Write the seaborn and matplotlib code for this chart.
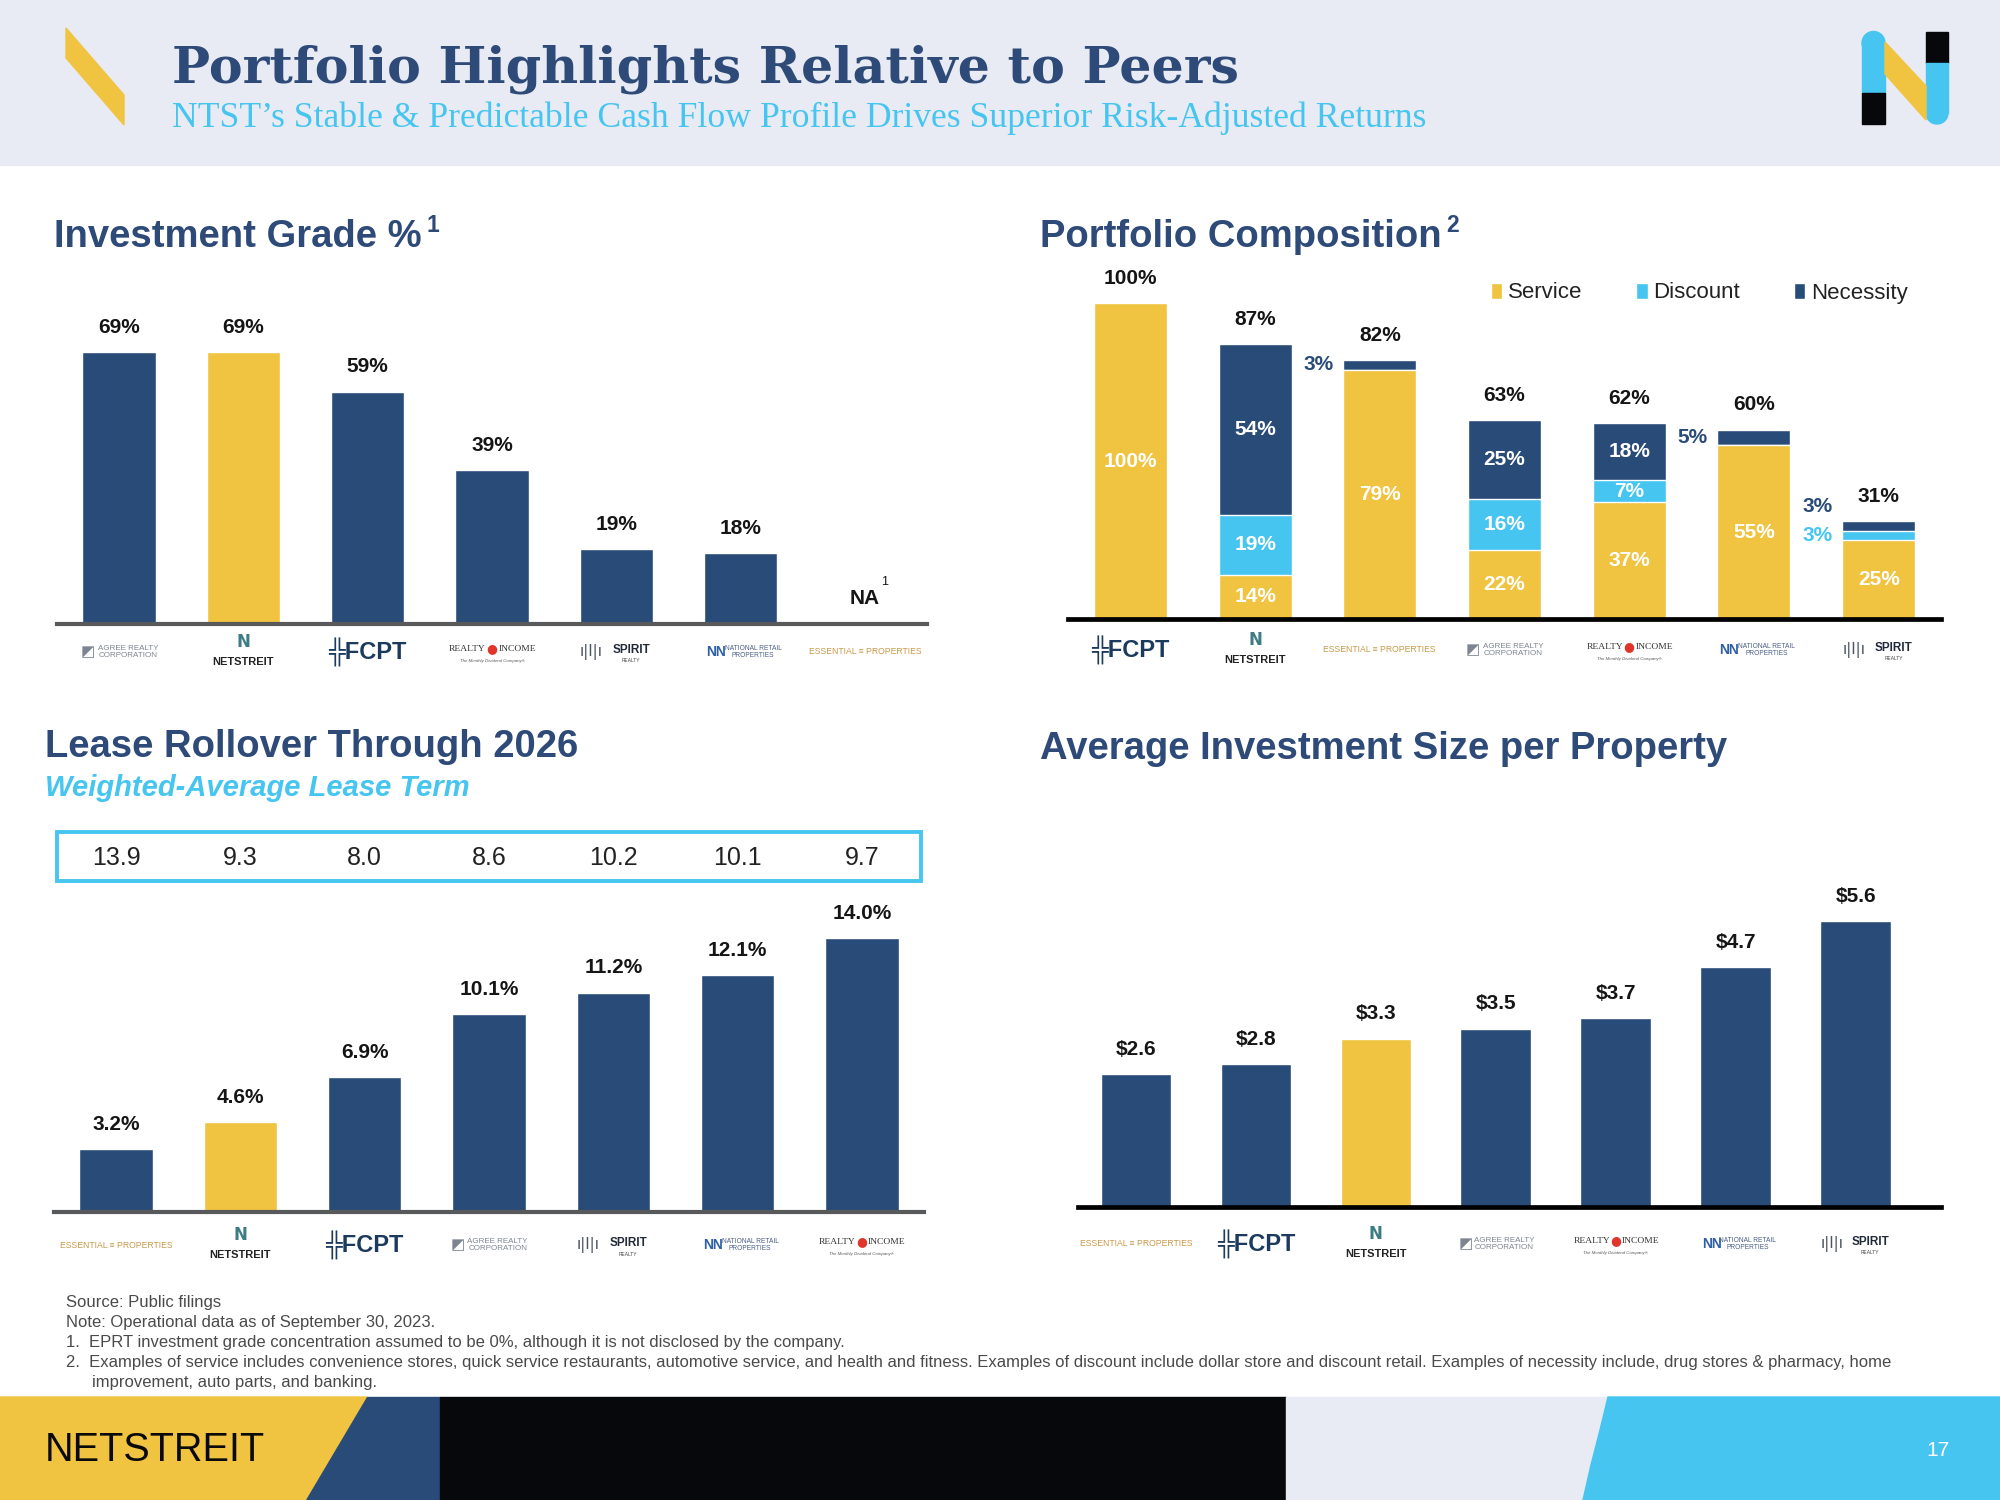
import numpy as np
import pandas as pd
import matplotlib
matplotlib.use("Agg")
import matplotlib.pyplot as plt
import seaborn as sns
from matplotlib.patches import Polygon, Rectangle, Circle, Patch
from matplotlib.transforms import blended_transform_factory as blend

# ---------------- data ----------------
ig_companies = ["ADC", "NTST", "FCPT", "O", "SRC", "NNN", "EPRT"]
ig_values = [69, 69, 59, 39, 19, 18, np.nan]

roll_companies = ["EPRT", "NTST", "FCPT", "ADC", "SRC", "NNN", "O"]
roll_values = [3.2, 4.6, 6.9, 10.1, 11.2, 12.1, 14.0]
walt_values = [13.9, 9.3, 8.0, 8.6, 10.2, 10.1, 9.7]

comp_companies = ["FCPT", "NTST", "EPRT", "ADC", "O", "NNN", "SRC"]
service = [100, 14, 79, 22, 37, 55, 25]
discount = [0, 19, 0, 16, 7, 0, 3]
necessity = [0, 54, 3, 25, 18, 5, 3]
comp_totals = [100, 87, 82, 63, 62, 60, 31]

size_companies = ["EPRT", "FCPT", "NTST", "ADC", "O", "NNN", "SRC"]
size_values = [2.6, 2.8, 3.3, 3.5, 3.7, 4.7, 5.6]

footnotes = [
    "Source: Public filings",
    "Note: Operational data as of September 30, 2023.",
    "1.  EPRT investment grade concentration assumed to be 0%, although it is not disclosed by the company.",
    "2.  Examples of service includes convenience stores, quick service restaurants, automotive service, and health and fitness. "
    "Examples of discount include dollar store and discount retail. Examples of necessity include, drug stores & pharmacy, home",
]
footnote_cont = "improvement, auto parts, and banking."

# ---------------- style ----------------
NAVY = "#294B78"
YELLOW = "#F0C441"
CYAN = "#45C5EF"
TITLE = "#2D4A78"
HEADBG = "#E8EBF3"
LABEL = "#151515"

sns.set_style("white")
plt.rcParams["font.family"] = ["Liberation Sans", "DejaVu Sans"]

fig = plt.figure(figsize=(20, 15), dpi=100)
bg = fig.add_axes([0, 0, 1, 1], zorder=0)
bg.set_xlim(0, 2000)
bg.set_ylim(1500, 0)
bg.axis("off")


def px_axes(l, t, r, b):
    ax = fig.add_axes([l / 2000, 1 - b / 1500, (r - l) / 2000, (b - t) / 1500], zorder=2)
    ax.set_facecolor("none")
    return ax


def pal(companies):
    return {c: (YELLOW if c == "NTST" else NAVY) for c in companies}


def tidy(ax, color, lw=3.0):
    ax.set_xlabel("")
    ax.set_ylabel("")
    ax.set_xticks([])
    ax.set_yticks([])
    sns.despine(ax=ax, left=True)
    ax.spines["bottom"].set_color(color)
    ax.spines["bottom"].set_linewidth(lw)


def bar_labels(ax, values, fmt):
    for i, v in enumerate(values):
        if np.isnan(v):
            continue
        ax.annotate(fmt(v), xy=(i, v), xytext=(0, 18), textcoords="offset points",
                    ha="center", va="center", fontsize=15, fontweight="bold", color=LABEL)


def logo(ax, i, key, yc):
    T = blend(ax.transData, bg.transData)

    def t(x, y, s, **k):
        base = dict(transform=T, ha="center", va="center", clip_on=False)
        base.update(k)
        ax.text(x, y, s, **base)

    if key == "NTST":
        t(i, yc - 10, "N", fontsize=12, fontweight="bold", color="#3C7C84", family="DejaVu Sans")
        t(i, yc + 10, "NETSTREIT", fontsize=8, fontweight="bold", color="#222222")
    elif key == "FCPT":
        t(i, yc, "╬FCPT", fontsize=17, fontweight="bold", color="#1C3A5E")
    elif key == "ADC":
        t(i - 0.25, yc, "◩", fontsize=11, color="#7D8591", family="DejaVu Sans")
        t(i + 0.07, yc, "AGREE REALTY\nCORPORATION", fontsize=5.8, color="#7D8591", linespacing=1.0)
    elif key == "O":
        t(i - 0.05, yc - 3, "REALTY", ha="right", fontsize=6.8, family="Liberation Serif", color="#333333")
        t(i, yc - 3, "●", fontsize=9, color="#E0352B", family="DejaVu Sans")
        t(i + 0.05, yc - 3, "INCOME", ha="left", fontsize=6.8, family="Liberation Serif", color="#333333")
        t(i, yc + 9, "The Monthly Dividend Company®", fontsize=3.2, style="italic", color="#555555")
    elif key == "SRC":
        t(i - 0.2, yc, "ı|l|ı", fontsize=11, color="#4A5363", family="DejaVu Sans")
        t(i + 0.12, yc - 2, "SPIRIT", fontsize=8.5, fontweight="bold", color="#222A3A")
        t(i + 0.12, yc + 9, "REALTY", fontsize=3.5, color="#444444")
    elif key == "NNN":
        t(i - 0.2, yc, "NN", fontsize=10, fontweight="bold", color="#2F5FA8")
        t(i + 0.1, yc, "NATIONAL RETAIL\nPROPERTIES", fontsize=4.8, color="#4A5E85", linespacing=1.0)
    elif key == "EPRT":
        t(i, yc, "ESSENTIAL ≡ PROPERTIES", fontsize=6.2, color="#C8994A")


def sup_text(x, y, s, sup, size, color, **kw):
    txt = bg.text(x, y, s, ha="left", va="center", fontsize=size, color=color, **kw)
    r = fig.canvas.get_renderer()
    bb = txt.get_window_extent(renderer=r)
    x1 = bg.transData.inverted().transform((bb.x1, bb.y1))[0]
    bg.text(x1 + 5, y - 11, sup, ha="left", va="center", fontsize=size * 0.6, color=color, **kw)


# ---------------- header ----------------
bg.add_patch(Rectangle((0, 0), 2000, 165, color=HEADBG, zorder=0))
bg.add_patch(Polygon([(66, 28), (124, 95), (124, 125), (66, 58)], closed=True, color=YELLOW, zorder=1))
# N logo
bg.add_patch(Rectangle((1862, 43), 23, 50, color=CYAN, zorder=1))
bg.add_patch(Circle((1873.5, 43), 11.5, color=CYAN, zorder=1))
bg.add_patch(Rectangle((1862, 93), 23, 31, color="#07080C", zorder=1))
bg.add_patch(Rectangle((1926, 32), 22, 31, color="#07080C", zorder=1))
bg.add_patch(Rectangle((1926, 63), 22, 50, color=CYAN, zorder=1))
bg.add_patch(Circle((1937, 113), 11, color=CYAN, zorder=1))
bg.add_patch(Polygon([(1885, 42), (1926, 86), (1926, 120), (1885, 74)], closed=True, color=YELLOW, zorder=1))

bg.text(172, 69, "Portfolio Highlights Relative to Peers", ha="left", va="center",
        fontsize=36.5, fontweight="bold", family="DejaVu Serif", color=TITLE)
bg.text(172, 118, "NTST’s Stable & Predictable Cash Flow Profile Drives Superior Risk-Adjusted Returns",
        ha="left", va="center", fontsize=25.7, family="Liberation Serif", color=CYAN)

# ---------------- panel titles ----------------
sup_text(54, 237, "Investment Grade %", "1", 27.5, TITLE, fontweight="bold")
sup_text(1040, 237, "Portfolio Composition", "2", 27.5, TITLE, fontweight="bold")
bg.text(45, 747, "Lease Rollover Through 2026", ha="left", va="center", fontsize=27.5,
        fontweight="bold", color=TITLE)
bg.text(45, 788, "Weighted-Average Lease Term", ha="left", va="center", fontsize=21,
        fontweight="bold", style="italic", color=CYAN)
bg.text(1040, 749, "Average Investment Size per Property", ha="left", va="center", fontsize=27.5,
        fontweight="bold", color=TITLE)

# ---------------- panel 1: investment grade ----------------
ax1 = px_axes(57, 309, 927, 624)
df1 = pd.DataFrame({"company": ig_companies, "value": ig_values})
sns.barplot(data=df1, x="company", y="value", hue="company", order=ig_companies,
            palette=pal(ig_companies), width=0.59, saturation=1, errorbar=None, legend=False, ax=ax1)
ax1.set_xlim(-0.5, 6.5)
ax1.set_ylim(0, 80)
tidy(ax1, "#58595B")
bar_labels(ax1, ig_values, lambda v: f"{v:.0f}%")
for i, v in enumerate(ig_values):
    if np.isnan(v):
        ax1.annotate("NA", xy=(i, 0), xytext=(0, 18), textcoords="offset points",
                     ha="center", va="center", fontsize=15, fontweight="bold", color=LABEL)
        ax1.annotate("1", xy=(i, 0), xytext=(14, 30), textcoords="offset points",
                     ha="center", va="center", fontsize=9, color=LABEL)
for i, c in enumerate(ig_companies):
    logo(ax1, i, c, 652)

# ---------------- panel 2: lease rollover ----------------
ax2 = px_axes(54, 899, 924, 1212)
df2 = pd.DataFrame({"company": roll_companies, "value": roll_values})
sns.barplot(data=df2, x="company", y="value", hue="company", order=roll_companies,
            palette=pal(roll_companies), width=0.59, saturation=1, errorbar=None, legend=False, ax=ax2)
ax2.set_xlim(-0.5, 6.5)
ax2.set_ylim(0, 16)
tidy(ax2, "#58595B")
bar_labels(ax2, roll_values, lambda v: f"{v:.1f}%")
bg.add_patch(Rectangle((57, 832), 864, 49, fill=False, edgecolor=CYAN, lw=2.8, zorder=1))
T2 = blend(ax2.transData, bg.transData)
for i, w in enumerate(walt_values):
    ax2.text(i, 858, f"{w:.1f}", transform=T2, ha="center", va="center", fontsize=18,
             color="#222222", clip_on=False)
for i, c in enumerate(roll_companies):
    logo(ax2, i, c, 1245)

# ---------------- panel 3: portfolio composition ----------------
ax3 = px_axes(1068, 256, 1941, 619)
cum1 = np.array(service)
cum2 = cum1 + np.array(discount)
cum3 = cum2 + np.array(necessity)
df3 = pd.DataFrame({"company": comp_companies, "service": cum1, "service_discount": cum2, "all": cum3})
for col, colour in [("all", NAVY), ("service_discount", CYAN), ("service", YELLOW)]:
    sns.barplot(data=df3, x="company", y=col, order=comp_companies, color=colour,
                width=0.585, saturation=1, errorbar=None, ax=ax3)
ax3.set_xlim(-0.5, 6.5)
ax3.set_ylim(0, 115)
tidy(ax3, "#000000", lw=3.4)
for i in range(len(comp_companies)):
    segs = [(service[i], 0, YELLOW), (discount[i], cum1[i], CYAN), (necessity[i], cum2[i], NAVY)]
    for k, (v, bottom, colour) in enumerate(segs):
        if v == 0:
            continue
        yc = bottom + v / 2
        if v >= 7:
            ax3.text(i, yc, f"{v}%", ha="center", va="center", fontsize=15,
                     fontweight="bold", color="white")
        else:
            dy = 14 if (k == 2 and 0 < discount[i] < 7) else 0
            ax3.annotate(f"{v}%", xy=(i - 0.49, yc), xytext=(0, dy), textcoords="offset points",
                         ha="center", va="center", fontsize=15, fontweight="bold",
                         color=(CYAN if k == 1 else NAVY))
bar_labels(ax3, comp_totals, lambda v: f"{v:.0f}%")
handles = [Patch(facecolor=YELLOW, label="Service"), Patch(facecolor=CYAN, label="Discount"),
           Patch(facecolor=NAVY, label="Necessity")]
leg = ax3.legend(handles=handles, loc="center left", bbox_to_anchor=(1491 / 2000, 1 - 293 / 1500),
                 bbox_transform=fig.transFigure, ncol=3, frameon=False, fontsize=16,
                 handlelength=0.5, handleheight=0.7, handletextpad=0.25, columnspacing=2.45,
                 borderaxespad=0, borderpad=0)
for tx in leg.get_texts():
    tx.set_color("#222222")
for i, c in enumerate(comp_companies):
    logo(ax3, i, c, 650)

# ---------------- panel 4: investment size ----------------
ax4 = px_axes(1078, 850, 1941, 1207)
df4 = pd.DataFrame({"company": size_companies, "value": size_values})
sns.barplot(data=df4, x="company", y="value", hue="company", order=size_companies,
            palette=pal(size_companies), width=0.59, saturation=1, errorbar=None, legend=False, ax=ax4)
ax4.set_xlim(-0.483, 6.71)
ax4.set_ylim(0, 7.0)
tidy(ax4, "#000000", lw=3.4)
bar_labels(ax4, size_values, lambda v: f"${v:.1f}")
for i, c in enumerate(size_companies):
    logo(ax4, i, c, 1244)

# ---------------- footnotes ----------------
for k, line in enumerate(footnotes):
    bg.text(66, 1302 + k * 20.3, line, ha="left", va="center", fontsize=12, color="#4A4A4A")
bg.text(92, 1383, footnote_cont, ha="left", va="center", fontsize=12, color="#4A4A4A")

# ---------------- footer ----------------
bg.add_patch(Polygon([(0, 1397), (367, 1397), (306, 1500), (0, 1500)], closed=True, color=YELLOW, zorder=1))
bg.add_patch(Polygon([(367, 1397), (440, 1397), (440, 1500), (306, 1500)], closed=True, color=NAVY, zorder=1))
bg.add_patch(Rectangle((440, 1397), 846, 103, color="#07080C", zorder=1))
bg.add_patch(Rectangle((1286, 1397), 330, 103, color=HEADBG, zorder=1))
bg.add_patch(Polygon([(1608, 1397), (1600, 1430), (1591, 1465), (1583, 1500), (2000, 1500), (2000, 1397)],
                     closed=True, color=CYAN, zorder=1))
bg.text(45, 1450, "NETSTREIT", ha="left", va="center", fontsize=28.5, color="#0A0A0A")
bg.text(1938, 1450, "17", ha="center", va="center", fontsize=15, color="white")

fig.savefig("out.png", dpi=100)
